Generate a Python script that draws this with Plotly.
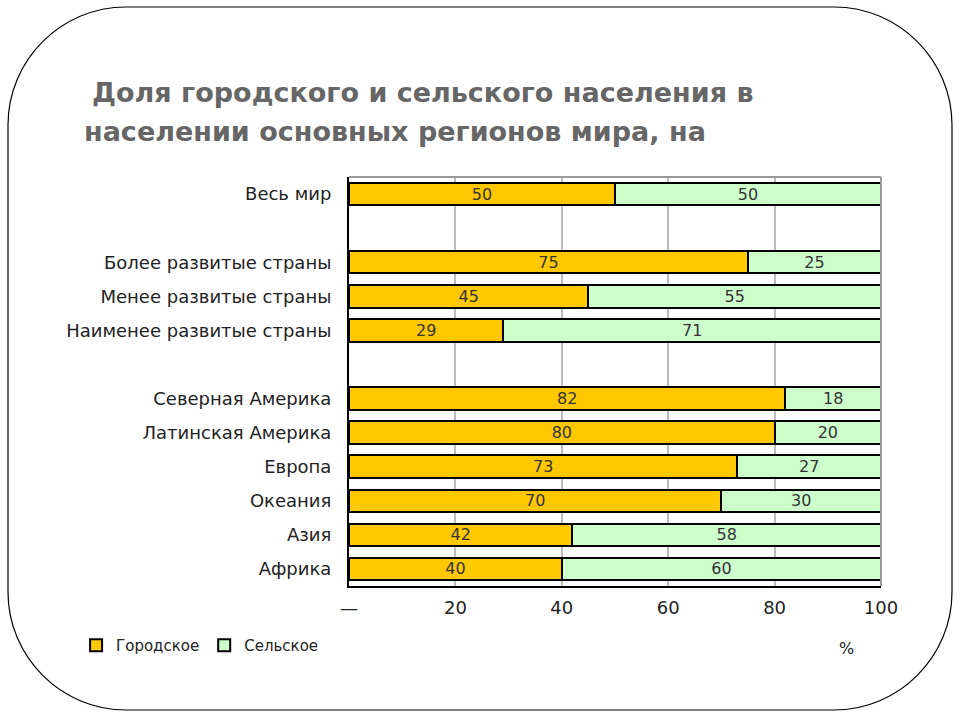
import plotly.graph_objects as go

categories = ["Весь мир", " ", "Более развитые страны", "Менее развитые страны",
              "Наименее развитые страны", "  ", "Северная Америка", "Латинская Америка",
              "Европа", "Океания", "Азия", "Африка"]
urban = [50, None, 75, 45, 29, None, 82, 80, 73, 70, 42, 40]
rural = [50, None, 25, 55, 71, None, 18, 20, 27, 30, 58, 60]
x_tickvals = [0, 20, 40, 60, 80, 100]
x_ticktext = ["—", "20", "40", "60", "80", "100"]

FONT = "DejaVu Sans"

fig = go.Figure()
fig.add_trace(go.Bar(
    y=categories, x=urban, orientation="h", name="Городское",
    marker=dict(color="#FFC800", line=dict(color="black", width=2)),
    text=[str(v) if v is not None else "" for v in urban],
    textposition="inside", insidetextanchor="middle", constraintext="none",
    textfont=dict(family=FONT, size=16, color="#333333"),
    width=0.66,
))
fig.add_trace(go.Bar(
    y=categories, x=rural, orientation="h", name="Сельское",
    marker=dict(color="#CCFFCC", line=dict(color="black", width=2)),
    text=[str(v) if v is not None else "" for v in rural],
    textposition="inside", insidetextanchor="middle", constraintext="none",
    textfont=dict(family=FONT, size=16, color="#333333"),
    width=0.66,
))

fig.update_layout(
    width=960, height=720,
    barmode="stack",
    paper_bgcolor="white", plot_bgcolor="white",
    margin=dict(l=349, r=79, t=177, b=134),
    font=dict(family=FONT, color="#222222"),
    showlegend=True,
    legend=dict(orientation="h", x=-0.513, xanchor="left", y=-0.105, yanchor="top",
                font=dict(family=FONT, size=15, color="#222222"),
                itemwidth=30, itemsizing="constant", traceorder="normal",
                bgcolor="rgba(0,0,0,0)"),
    xaxis=dict(range=[0, 100], tickvals=x_tickvals, ticktext=x_ticktext,
               showgrid=True, gridcolor="#BBBBBB", gridwidth=2,
               showline=True, linecolor="black", linewidth=2,
               ticks="", ticklabelstandoff=4, zeroline=False,
               tickfont=dict(family=FONT, size=18, color="#222222")),
    yaxis=dict(type="category", categoryorder="array", categoryarray=categories,
               autorange="reversed", showgrid=False,
               showline=True, linecolor="black", linewidth=2,
               ticks="", ticklabelstandoff=12,
               tickfont=dict(family=FONT, size=18, color="#222222")),
    bargap=0.34,
)

# plot area top/right frame (gray)
fig.add_shape(type="line", xref="paper", yref="paper", x0=0, x1=1, y0=1, y1=1,
              line=dict(color="#999999", width=2))
fig.add_shape(type="line", xref="paper", yref="paper", x0=1, x1=1, y0=0, y1=1,
              line=dict(color="#999999", width=2))

# rounded frame around slide
L, R, T, B, r = 8, 952, 7, 710, 118
def px(x): return (x - 349) / (960 - 349 - 79)
def py(y): return (720 - 134 - y) / (720 - 177 - 134)
k = 0.45  # cubic control offset factor (~circular arc)
def corner(x0, y0, cx, cy, x1, y1):
    c1x = x0 + (cx - x0) * (1 - k); c1y = y0 + (cy - y0) * (1 - k)
    c2x = x1 + (cx - x1) * (1 - k); c2y = y1 + (cy - y1) * (1 - k)
    return f"C {px(c1x)} {py(c1y)} {px(c2x)} {py(c2y)} {px(x1)} {py(y1)} "
path = (f"M {px(L + r)} {py(T)} L {px(R - r)} {py(T)} "
        + corner(R - r, T, R, T, R, T + r)
        + f"L {px(R)} {py(B - r)} "
        + corner(R, B - r, R, B, R - r, B)
        + f"L {px(L + r)} {py(B)} "
        + corner(L + r, B, L, B, L, B - r)
        + f"L {px(L)} {py(T + r)} "
        + corner(L, T + r, L, T, L + r, T)
        + "Z")
fig.add_shape(type="path", xref="paper", yref="paper", path=path,
              line=dict(color="black", width=1.2), layer="below")

title_font = dict(family=FONT, size=27, color="#666666")
fig.add_annotation(text="<b>Доля городского и сельского населения в</b>",
                   xref="paper", yref="paper", x=px(90), y=py(93),
                   xanchor="left", yanchor="middle", showarrow=False, font=title_font)
fig.add_annotation(text="<b>населении основных регионов мира, на</b>",
                   xref="paper", yref="paper", x=px(82), y=py(131),
                   xanchor="left", yanchor="middle", showarrow=False, font=title_font)
fig.add_annotation(text="%", xref="paper", yref="paper", x=px(846), y=py(648),
                   xanchor="center", yanchor="middle", showarrow=False,
                   font=dict(family=FONT, size=16, color="#222222"))

fig.write_html("out.html", config={"displayModeBar": False},
               post_script="document.body.style.margin='0px';")
